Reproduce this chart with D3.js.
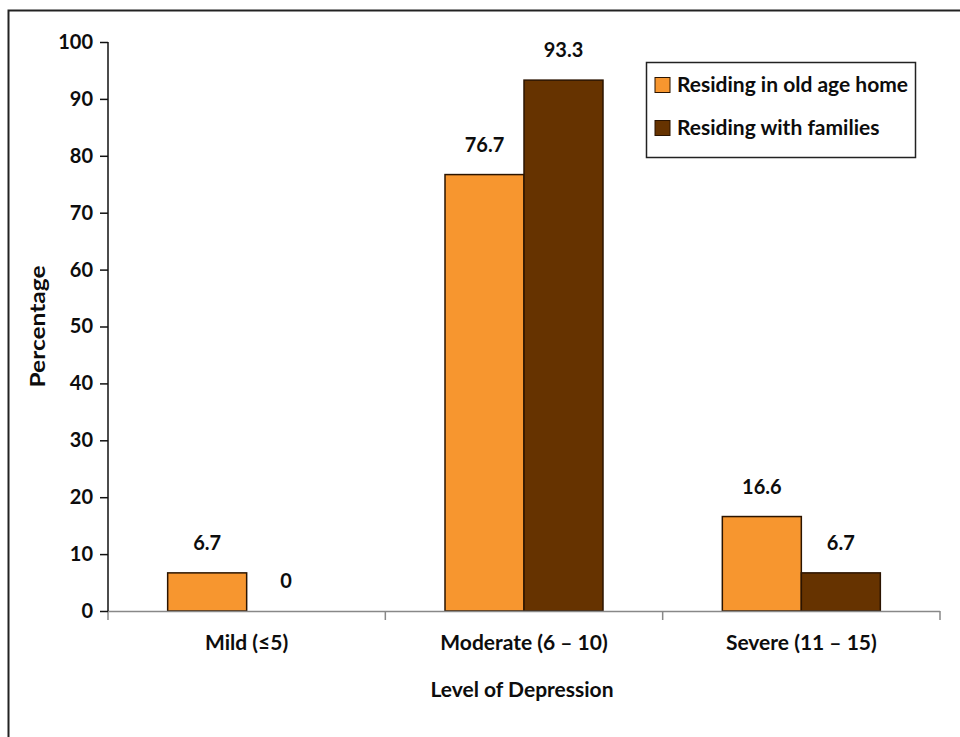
<!DOCTYPE html>
<html>
<head>
<meta charset="utf-8">
<script src="https://cdn.jsdelivr.net/npm/d3@7"></script>
<style>
  html, body { margin: 0; padding: 0; background: #fff; }
  svg { display: block; font-family: Lato, "Open Sans", sans-serif; font-weight: 700; }
</style>
</head>
<body>
<svg id="chart" width="960" height="737"></svg>
<script>
// Depression levels by residence
const categories = ["Mild (\u22645)", "Moderate (6 \u2013 10)", "Severe (11 \u2013 15)"];
const seriesNames = ["Residing in old age home", "Residing with families"];
const oldAgeHome = [6.7, 76.7, 16.6];
const withFamilies = [0, 93.3, 6.7];
const yTicks = [0, 10, 20, 30, 40, 50, 60, 70, 80, 90, 100];
const colors = ["#F7962F", "#663300"];

const seriesValues = [oldAgeHome, withFamilies];
const svg = d3.select("#chart");
const ink = "#0d0d0d";

// outer frame
svg.append("rect")
  .attr("x", 8.5).attr("y", 10.5)
  .attr("width", 980).attr("height", 760)
  .attr("fill", "#fff").attr("stroke", "#222").attr("stroke-width", 2);

const plotLeft = 108, plotRight = 940, plotTop = 42, plotBottom = 611;

const x = d3.scaleBand().domain(categories).range([plotLeft, plotRight]).padding(0);
const inner = d3.scaleBand().domain(seriesNames).range([0, 158]);
const y = d3.scaleLinear().domain([0, 100]).range([plotBottom, plotTop]);

// bars and value labels
categories.forEach((c, i) => {
  const gx = x(c) + x.bandwidth() / 2 - 79;
  seriesNames.forEach((s, j) => {
    const v = seriesValues[j][i];
    if (v > 0) {
      svg.append("rect")
        .attr("x", gx + inner(s))
        .attr("y", y(v))
        .attr("width", inner.bandwidth())
        .attr("height", y(0) - y(v))
        .attr("fill", colors[j])
        .attr("stroke", "#2b1400")
        .attr("stroke-width", 1.5);
    }
    svg.append("text")
      .attr("x", gx + inner(s) + inner.bandwidth() / 2)
      .attr("y", y(v) - 30)
      .attr("dy", "0.35em")
      .attr("text-anchor", "middle")
      .attr("font-size", 20)
      .attr("fill", ink)
      .text(String(v));
  });
});

// x axis line with boundary ticks
const xAxisLine = svg.append("g");
xAxisLine.append("line")
  .attr("x1", plotLeft).attr("x2", plotRight)
  .attr("y1", plotBottom + 0.5).attr("y2", plotBottom + 0.5)
  .attr("stroke", "#888").attr("stroke-width", 1.5);
const xBounds = [plotLeft].concat(categories.map(c => x(c) + x.bandwidth()));
xAxisLine.selectAll("line.tick").data(xBounds).join("line")
  .attr("class", "tick")
  .attr("x1", d => d).attr("x2", d => d)
  .attr("y1", plotBottom).attr("y2", plotBottom + 9)
  .attr("stroke", "#888").attr("stroke-width", 1.5);

const xAxis = d3.axisBottom(x).tickSize(0).tickPadding(0);
const gxa = svg.append("g").attr("transform", `translate(0,${plotBottom})`).call(xAxis);
gxa.select(".domain").remove();
gxa.selectAll("text")
  .attr("y", 32)
  .attr("dy", "0.35em")
  .attr("font-size", 21)
  .attr("font-family", "Lato, 'Open Sans', sans-serif")
  .attr("font-weight", 700)
  .attr("fill", ink);

// y axis
const yAxis = d3.axisLeft(y).tickValues(yTicks).tickSize(8).tickPadding(7);
const gya = svg.append("g").attr("transform", `translate(${plotLeft},0)`).call(yAxis);
gya.select(".domain").attr("stroke", "#111").attr("stroke-width", 1.5)
  .attr("d", `M0,${plotTop}V${plotBottom}`);
gya.selectAll(".tick line").attr("stroke", "#111").attr("stroke-width", 1.5);
gya.selectAll("text")
  .attr("font-size", 20)
  .attr("font-family", "Lato, 'Open Sans', sans-serif")
  .attr("font-weight", 700)
  .attr("fill", ink);

// axis titles
svg.append("text")
  .attr("x", (plotLeft + plotRight) / 2 - 2).attr("y", 690)
  .attr("dy", "0.35em")
  .attr("text-anchor", "middle")
  .attr("font-size", 21)
  .attr("fill", ink)
  .text("Level of Depression");

svg.append("text")
  .attr("transform", `translate(38,${(plotTop + plotBottom) / 2}) rotate(-90)`)
  .attr("dy", "0.35em")
  .attr("text-anchor", "middle")
  .attr("font-size", 20)
  .attr("textLength", 122)
  .attr("lengthAdjust", "spacingAndGlyphs")
  .attr("fill", ink)
  .text("Percentage");

// legend
const lg = svg.append("g").attr("transform", "translate(646,62)");
lg.append("rect")
  .attr("x", 0.5).attr("y", 0.5)
  .attr("width", 269).attr("height", 95)
  .attr("fill", "#fff").attr("stroke", "#222").attr("stroke-width", 1.5);
seriesNames.forEach((s, j) => {
  const cy = 23 + j * 43;
  lg.append("rect")
    .attr("x", 9).attr("y", cy - 7.5)
    .attr("width", 15).attr("height", 15)
    .attr("fill", colors[j])
    .attr("stroke", "#2b1400").attr("stroke-width", 1);
  lg.append("text")
    .attr("x", 31).attr("y", cy)
    .attr("dy", "0.35em")
    .attr("font-size", 21)
    .attr("fill", ink)
    .text(s);
});
</script>
</body>
</html>
